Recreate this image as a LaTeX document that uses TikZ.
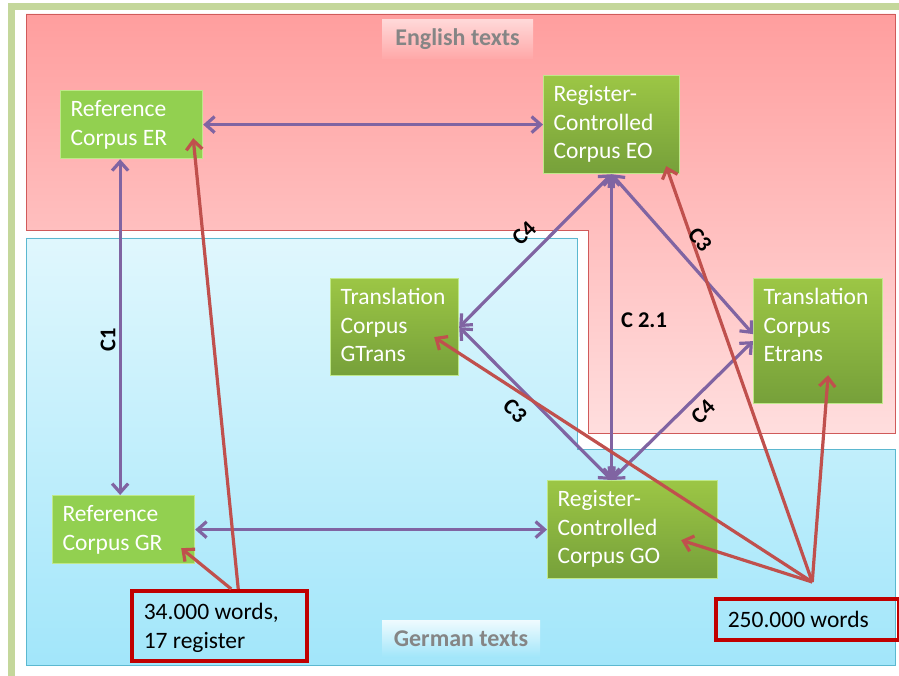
\documentclass[tikz,border=0pt]{standalone}
\usepackage{fontspec}
\setmainfont{Carlito}
\usetikzlibrary{arrows.meta,calc}

\definecolor{frameg}{HTML}{C4D79B}
\definecolor{engtop}{HTML}{FF9E9E}
\definecolor{engbot}{HTML}{FFDEDE}
\definecolor{engline}{HTML}{D05A5A}
\definecolor{gertop}{HTML}{E0F7FD}
\definecolor{gerbot}{HTML}{A2E6FA}
\definecolor{gerline}{HTML}{5BB8D0}
\definecolor{leaf}{HTML}{92D050}
\definecolor{leafedge}{HTML}{BFE88A}
\definecolor{olivetop}{HTML}{9CC645}
\definecolor{olivebot}{HTML}{76A03A}
\definecolor{purp}{HTML}{8064A2}
\definecolor{redline}{HTML}{C0504D}
\definecolor{boxred}{HTML}{C00000}
\definecolor{captiongray}{HTML}{858585}

\tikzset{
  corpus/.style={anchor=north west, inner xsep=10pt, inner ysep=9pt,
    text height=17pt, align=flush left, text=white,
    font=\fontsize{23.5}{28.5}\selectfont},
  flatbox/.style={corpus, fill=leaf, draw=leafedge, line width=1.2pt},
  olivebox/.style={corpus, top color=olivetop, bottom color=olivebot,
    draw=leafedge, line width=1.2pt},
  wordbox/.style={anchor=north west, draw=boxred, line width=3.5pt,
    inner xsep=12pt, inner ysep=12pt, text height=17pt, align=flush left,
    text=black, font=\fontsize{23.5}{29}\selectfont},
  caption/.style={text=captiongray, font=\bfseries\fontsize{24}{28}\selectfont},
  clabel/.style={text=black, inner sep=0pt, font=\bfseries\fontsize{22.5}{26}\selectfont},
  link/.style={draw=purp, line width=3.2pt,
    {Straight Barb[length=9pt,width=16pt]}-{Straight Barb[length=9pt,width=16pt]}},
  feed/.style={draw=redline, line width=3.2pt,
    -{Straight Barb[length=9pt,width=16pt]}},
}

\begin{document}
\begin{tikzpicture}[x=1pt,y=-1pt]
\useasboundingbox (0,0) rectangle (899,676);
\fill[white] (0,0) rectangle (899,676);

% outer slide frame
\draw[frameg, line width=7pt] (11.5,6.5) rectangle (912,692);

% language regions
\shadedraw[top color=engtop, bottom color=engbot, draw=engline, line width=0.8pt]
  (26,14) -- (895,14) -- (895,433) -- (588,433) -- (588,230) -- (26,230) -- cycle;
\shadedraw[top color=gertop, bottom color=gerbot, draw=gerline, line width=0.8pt]
  (26,238) -- (577,238) -- (577,449) -- (895,449) -- (895,665) -- (26,665) -- cycle;

% region captions
\node[caption, top color=white!60!engtop, bottom color=engtop!85!engbot,
      minimum width=151pt, minimum height=39pt] (engcap) at (457.5,39.5) {English texts};
\node[caption, top color=gertop!50!white, bottom color=gerbot,
      minimum width=158pt, minimum height=37pt] (gercap) at (461,638.5) {German texts};

% corpora
\node[flatbox, text width=122pt, text depth=33pt] (er) at (60,90) {Reference\\Corpus ER};
\node[olivebox, text width=116pt, text depth=63pt] (eo) at (543,75) {Register-\\Controlled\\Corpus EO};
\node[olivebox, text width=108pt, text depth=62pt] (gt) at (330,278) {Translation\\Corpus\\GTrans};
\node[olivebox, text width=109pt, text depth=90pt] (et) at (753,278) {Translation\\Corpus\\Etrans};
\node[flatbox, text width=122pt, text depth=33pt] (gr) at (52,495) {Reference\\Corpus GR};
\node[olivebox, text width=150pt, text depth=63pt] (go) at (547,480) {Register-\\Controlled\\Corpus GO};

% corpus sizes
\node[wordbox, text width=151pt, text depth=29pt] (w34) at (130,589) {34.000 words,\\17 register};
\node[wordbox, text width=159pt, text depth=0pt] (w250) at (714,597) {250.000 words};

% comparisons
\coordinate (c1top) at ($(er.south west)!0.42!(er.south east)$);
\coordinate (goin) at (eo.south |- go.north);
\draw[link] (er.east) -- (eo.west);
\draw[link] (c1top) -- (c1top |- gr.north);
\draw[link] (gr.east) -- (go.west);
\draw[link] (eo.south) -- (goin);
\draw[link] (eo.south) -- (gt.east);
\draw[link] (eo.south) -- ($(et.west)+(0,-7)$);
\draw[link] (gt.east) -- (goin);
\draw[link] (et.west) -- (goin);

% sizes feeding the corpora
\coordinate (hub) at ($(w250.north)+(5,-15)$);
\draw[feed] ($(w34.north)+(19,0)$) -- ($(er.south east)+(-10,-21)$);
\draw[feed] ($(w34.north)+(12,0)$) -- ($(gr.south east)+(-14,-16)$);
\draw[feed] (hub) -- ($(eo.south east)+(-14,-8)$);
\draw[feed] (hub) -- ($(et.south)+(10,-29)$);
\draw[feed] (hub) -- ($(go.south east)+(-37,-39)$);
\draw[feed] (hub) -- ($(gt.east)+(-25,10)$);

% comparison labels
\node[clabel, rotate=90] (l1) at (108,340) {C1};
\node[clabel] (l21) at (644,320) {C 2.1};
\node[clabel, rotate=44] (l4a) at (524,233) {C4};
\node[clabel, rotate=-50] (l3a) at (700,240) {C3};
\node[clabel, rotate=-45] (l3b) at (515,411) {C3};
\node[clabel, rotate=45] (l4b) at (703,412) {C4};
\end{tikzpicture}
\end{document}
